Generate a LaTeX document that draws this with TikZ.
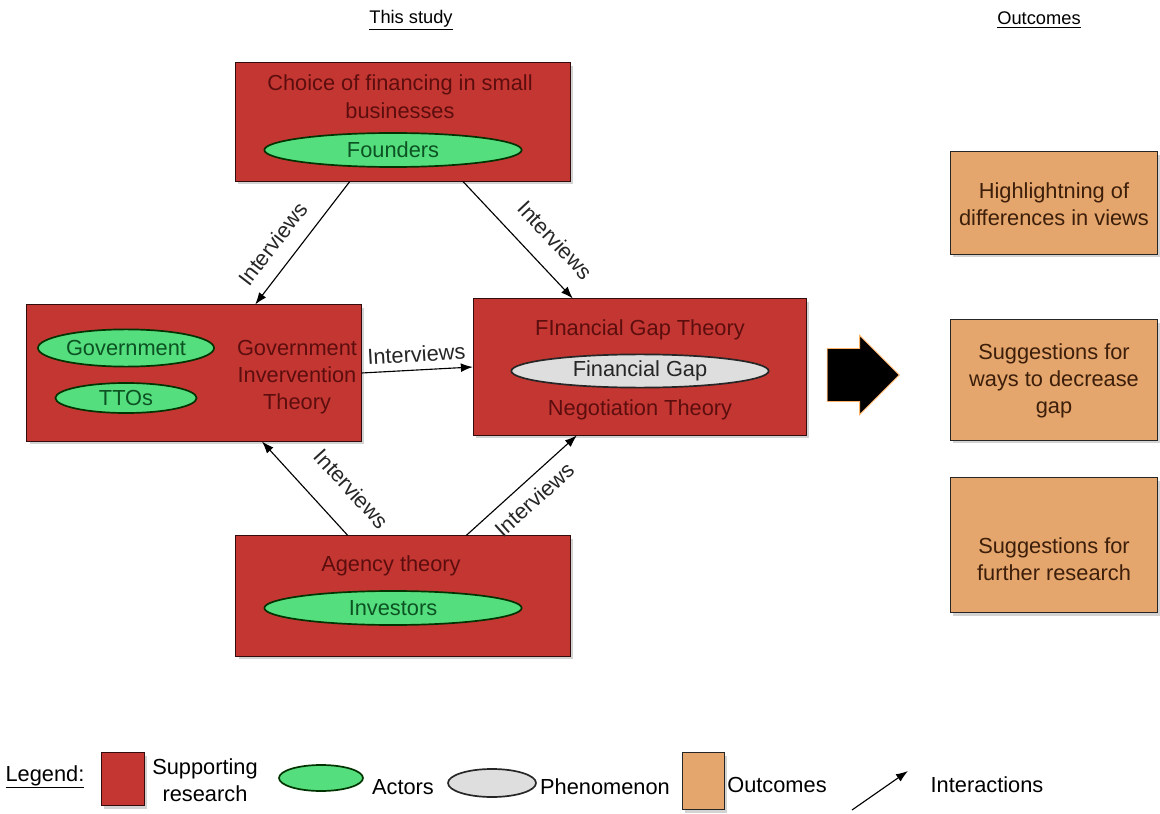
\documentclass[tikz,border=0pt]{standalone}
\usepackage{fontspec}
\setmainfont{Liberation Sans}
\usetikzlibrary{shapes.geometric,shapes.arrows,shadows,arrows.meta}

\definecolor{boxred}{RGB}{196,54,50}
\definecolor{boxtext}{RGB}{92,14,14}
\definecolor{actorgreen}{RGB}{84,222,126}
\definecolor{actortext}{RGB}{12,82,34}
\definecolor{phengray}{RGB}{222,222,222}
\definecolor{outorange}{RGB}{228,166,108}
\definecolor{outtext}{RGB}{60,30,10}

\tikzset{
	research/.style={draw=black!75!boxred,fill=boxred,line width=0.7pt,
		drop shadow={opacity=0.35,shadow xshift=0.07cm,shadow yshift=-0.08cm}},
	outcome/.style={draw=black!85,fill=outorange,line width=0.7pt,
		drop shadow={opacity=0.35,shadow xshift=0.07cm,shadow yshift=-0.08cm}},
	actor/.style={ellipse,draw=black!80!green,fill=actorgreen,text=actortext,
		line width=1.2pt,inner sep=0pt},
	phenomenon/.style={ellipse,draw=black!85,fill=phengray,text=black!85,
		line width=1.2pt,inner sep=0pt},
	boxlabel/.style={text=boxtext,align=center},
	outlabel/.style={text=outtext,align=center},
	link/.style={-{Latex[length=3mm,width=2.2mm]},line width=0.8pt},
	linklabel/.style={sloped,text=black!85}
}

\begin{document}
\begin{tikzpicture}[x=0.025cm,y=-0.025cm,
	font=\fontsize{15.5}{19}\selectfont]
\useasboundingbox (0,0) rectangle (1160,814);

% headings
\node[font=\fontsize{13}{16}\selectfont] (study) at (411,20) {\underline{This study}};
\node[font=\fontsize{13}{16}\selectfont] (outhead) at (1039,20) {\underline{Outcomes}};

% supporting research
\node[research,minimum width=8.38cm,minimum height=2.95cm] (choice) at (403,122) {};
\node[boxlabel] (choicetext) at (400,97) {Choice of financing in small\\[1pt]businesses};
\node[actor,minimum width=6.43cm,minimum height=0.85cm] (founders) at (393,150) {Founders};

\node[research,minimum width=8.35cm,minimum height=3.4cm] (gov) at (194,373) {};
\node[actor,minimum width=4.4cm,minimum height=0.93cm] (government) at (126,348) {Government};
\node[actor,minimum width=3.53cm,minimum height=0.75cm] (ttos) at (126,398) {TTOs};
\node[boxlabel] (govtext) at (297,377) {Government\\Invervention\\Theory};

\node[research,minimum width=8.33cm,minimum height=3.4cm] (gap) at (640,367) {};
\node[boxlabel] (gaptext) at (640,330) {FInancial Gap Theory};
\node[phenomenon,minimum width=6.43cm,minimum height=0.83cm] (fingap) at (640,371) {Financial Gap};
\node[boxlabel] (negtext) at (640,410) {Negotiation Theory};

\node[research,minimum width=8.35cm,minimum height=3.0cm] (agency) at (403,596) {};
\node[boxlabel] (agencytext) at (391,566) {Agency theory};
\node[actor,minimum width=6.43cm,minimum height=0.85cm] (investors) at (393,608) {Investors};

% interactions
\draw[link] ([xshift=-1.33cm]choice.south) -- ([xshift=1.53cm]gov.north)
	node[linklabel,pos=0.62,above=7pt] {Interviews};
\draw[link] ([xshift=1.5cm]choice.south) -- ([xshift=-1.68cm]gap.north)
	node[linklabel,pos=0.66,above=10pt] {Interviews};
\draw[link] (gov.east) -- (gap.west)
	node[linklabel,midway,above=2pt] {Interviews};
\draw[link] ([xshift=-1.38cm]agency.north) -- ([xshift=1.7cm]gov.south)
	node[linklabel,pos=0.25,above=15pt] {Interviews};
\draw[link] ([xshift=1.58cm]agency.north) -- ([xshift=-1.58cm]gap.south)
	node[linklabel,midway,below=4pt] {Interviews};

% big arrow
\node[single arrow,fill=black,draw=orange!60,line width=0.6pt,inner xsep=0pt,inner ysep=0.65cm,
	minimum height=1.8cm,single arrow head extend=0.33cm] (bigarrow) at (850,375) {};

% outcomes
\node[outcome,minimum width=5.18cm,minimum height=2.55cm] (out1) at (1054,203) {};
\node[outlabel] (out1text) at (1054,204) {Highlightning of\\differences in views};
\node[outcome,minimum width=5.18cm,minimum height=3.0cm] (out2) at (1054,380) {};
\node[outlabel] (out2text) at (1054,381) {Suggestions for\\ways to decrease\\gap};
\node[outcome,minimum width=5.18cm,minimum height=3.38cm] (out3) at (1054,545) {};
\node[outlabel] (out3text) at (1054,559) {Suggestions for\\further research};

% legend
\node (legend) at (45,777) {\underline{Legend:}};
\node[research,minimum width=1.08cm,minimum height=1.33cm] (legred) at (123,779) {};
\node[align=center] (legredtext) at (205,780) {Supporting\\research};
\node[actor,minimum width=2.1cm,minimum height=0.65cm] (leggreen) at (321,778) {};
\node (leggreentext) at (403,787) {Actors};
\node[phenomenon,minimum width=2.2cm,minimum height=0.7cm] (leggray) at (492,783) {};
\node (leggraytext) at (605,787) {Phenomenon};
\node[outcome,minimum width=1.05cm,minimum height=1.42cm] (legorange) at (703,781) {};
\node (legorangetext) at (777,785) {Outcomes};
\coordinate (legtail) at (852,810);
\coordinate (leghead) at (908,771);
\draw[link] (legtail) -- (leghead);
\node (legarrowtext) at (987,785) {Interactions};
\end{tikzpicture}
\end{document}
